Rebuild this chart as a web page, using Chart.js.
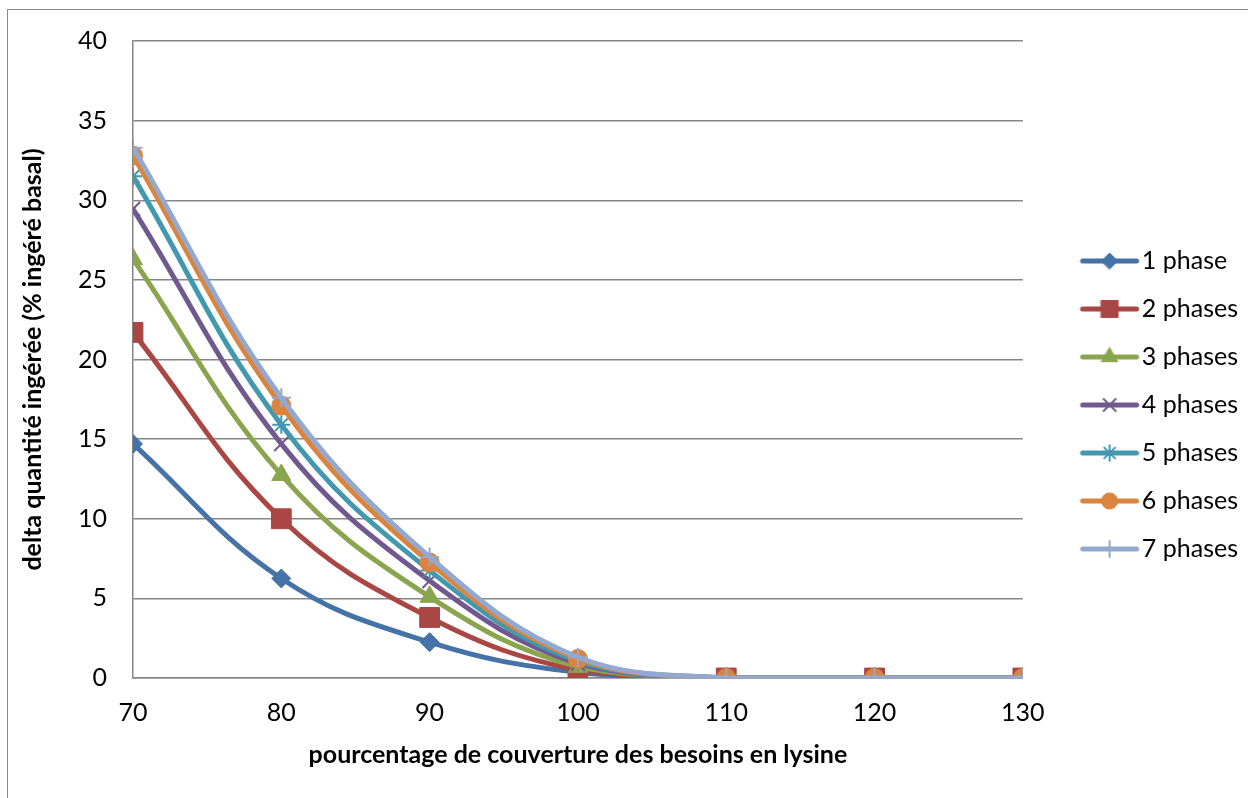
<!DOCTYPE html>
<html>
<head>
<meta charset="utf-8">
<script src="https://cdn.jsdelivr.net/npm/chart.js@4/dist/chart.umd.min.js"></script>
<style>
  html, body { margin: 0; padding: 0; background: #fff; overflow: hidden; }
  #frame { position: absolute; left: 7px; top: 9px; width: 1400px; height: 1000px; border: 1.5px solid #8a8a8a; }
  #wrap { position: absolute; left: 0; top: 0; width: 1248px; height: 798px; }
</style>
</head>
<body>
<div id="frame"></div>
<div id="wrap"><canvas id="chart" width="1248" height="798"></canvas></div>
<script>
// x values (% couverture lysine)
var couverture = [70, 80, 90, 100, 110, 120, 130];

// delta quantite ingeree, one array per nombre de phases
var phase1 = [14.7, 6.25, 2.25, 0.35, 0, 0, 0];
var phase2 = [21.7, 10.0, 3.8, 0.5, 0, 0, 0];
var phase3 = [26.3, 12.75, 5.1, 0.7, 0, 0, 0];
var phase4 = [29.45, 14.7, 6.1, 0.9, 0, 0, 0];
var phase5 = [31.5, 15.9, 6.75, 1.05, 0, 0, 0];
var phase6 = [32.8, 17.1, 7.25, 1.2, 0, 0, 0];
var phase7 = [33.3, 17.6, 7.6, 1.3, 0, 0, 0];

var seriesNames = ['1 phase', '2 phases', '3 phases', '4 phases', '5 phases', '6 phases', '7 phases'];
var seriesValues = [phase1, phase2, phase3, phase4, phase5, phase6, phase7];

// look of each series (excel 2007 palette)
var colors = ['#4572A7', '#AA4643', '#89A54E', '#71588F', '#4198AF', '#DB843D', '#93A9CF'];
var markers = ['rectRot', 'rect', 'triangle', 'crossRot', 'star', 'circle', 'cross'];
var markerSize = [9.5, 14, 11, 10, 9, 9.5, 9.5];
var markerBorder = [1, 1, 1, 2, 2, 1, 2];

var FONT = 'Lato, Carlito, "Liberation Sans", sans-serif';

//legend symbol: a short line with the marker in the middle
function legendSymbol(i){
  var c = document.createElement('canvas');
  c.width = 110; c.height = 30;
  var ctx = c.getContext('2d');
  ctx.strokeStyle = colors[i];
  ctx.lineWidth = 5;
  ctx.lineCap = 'round';
  ctx.beginPath();
  ctx.moveTo(50, 15);
  ctx.lineTo(104, 15);
  ctx.stroke();
  ctx.fillStyle = colors[i];
  ctx.strokeStyle = colors[i];
  ctx.lineWidth = markerBorder[i];
  if (Chart.helpers && Chart.helpers.drawPoint) {
    Chart.helpers.drawPoint(ctx, {pointStyle: markers[i], radius: markerSize[i] * 0.85, borderWidth: markerBorder[i], rotation: 0}, 77, 15);
  }
  return c;
}

var datasets = [];
seriesValues.forEach(function(vals, i){
  datasets.push({
    label: seriesNames[i],
    data: couverture.map(function(x, k){ return {x: x, y: vals[k]}; }),
    borderColor: colors[i],
    backgroundColor: colors[i],
    borderWidth: 5,
    tension: 0.4,
    pointStyle: markers[i],
    pointRadius: markerSize[i],
    pointBorderWidth: markerBorder[i],
    pointBackgroundColor: colors[i],
    pointBorderColor: colors[i],
    order: seriesValues.length - 1 - i
  });
});

var ctx = document.getElementById('chart').getContext('2d');
var chart = new Chart(ctx, {
  type: 'line',
  data: { datasets: datasets },
  options: {
    responsive: false,
    animation: false,
    events: [],
    layout: { padding: { top: 38, left: 0, right: 0, bottom: 26 } },
    plugins: {
      tooltip: { enabled: false },
      legend: {
        position: 'right',
        labels: {
          usePointStyle: true,
          pointStyleWidth: 83.5,
          boxHeight: 25,
          padding: 23,
          color: '#000',
          font: { family: FONT, size: 25 },
          generateLabels: function(chart){
            return chart.data.datasets.map(function(ds, i){
              return {
                text: ds.label,
                pointStyle: legendSymbol(i),
                fillStyle: colors[i],
                strokeStyle: colors[i],
                lineWidth: 0,
                hidden: false,
                datasetIndex: i
              };
            });
          }
        }
      }
    },
    scales: {
      x: {
        type: 'linear',
        min: 70,
        max: 130,
        afterFit: function(scale){ scale.height = 94; },
        ticks: { stepSize: 10, padding: 20, color: '#000', font: { family: FONT, size: 25 } },
        grid: { display: false, drawTicks: false },
        border: { color: '#868686', width: 1.5 },
        title: {
          display: true,
          text: 'pourcentage de couverture des besoins en lysine',
          color: '#000',
          font: { family: FONT, size: 25, weight: 'bold' },
          padding: { top: 0, bottom: 2 }
        }
      },
      y: {
        min: 0,
        max: 40,
        afterFit: function(scale){ scale.width = 133; },
        ticks: { stepSize: 5, padding: 26, color: '#000', font: { family: FONT, size: 25 } },
        grid: { color: '#868686', lineWidth: 1.5, drawTicks: false },
        border: { color: '#868686', width: 1.5 },
        title: {
          display: true,
          text: 'delta quantité ingérée (% ingéré basal)',
          color: '#000',
          font: { family: FONT, size: 25, weight: 'bold' },
          padding: { top: 18, bottom: 0 }
        }
      }
    }
  }
});
</script>
</body>
</html>
